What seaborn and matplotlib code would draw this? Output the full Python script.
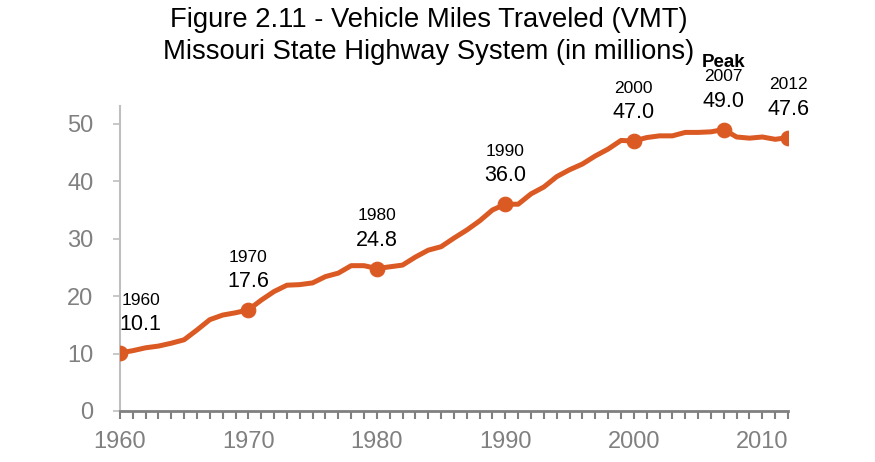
import matplotlib
matplotlib.use("Agg")
import matplotlib.pyplot as plt
import pandas as pd
import seaborn as sns

# VMT on the Missouri state highway system, millions
years = list(range(1960, 2013))
vmt = [10.1, 10.5, 11.0, 11.3, 11.8, 12.4, 14.1, 15.9, 16.7, 17.1,
       17.6, 19.3, 20.8, 21.9, 22.0, 22.3, 23.4, 24.0, 25.3, 25.3,
       24.8, 25.1, 25.4, 26.8, 28.0, 28.6, 30.1, 31.5, 33.1, 35.0,
       36.0, 36.0, 37.8, 39.0, 40.8, 42.0, 43.0, 44.4, 45.6, 47.1,
       47.0, 47.6, 47.9, 47.9, 48.5, 48.5, 48.6, 49.0, 47.7, 47.5,
       47.7, 47.3, 47.6]

label_years = [1960, 1970, 1980, 1990, 2000, 2007, 2012]
label_vals = ["10.1", "17.6", "24.8", "36.0", "47.0", "49.0", "47.6"]

df = pd.DataFrame({"year": years, "vmt": vmt})
marks = df[df["year"].isin(label_years)]

sns.set_style("white")
plt.rcParams["font.family"] = ["Liberation Sans", "DejaVu Sans"]
plt.rcParams["text.color"] = "black"

orange = "#DB5A24"
grey = "#808080"

fig = plt.figure(figsize=(8.75, 4.62), dpi=100)
ax = fig.add_axes([0.137, 0.1104, 0.7636, 0.6602])

sns.lineplot(data=df, x="year", y="vmt", ax=ax, color=orange, linewidth=3.6)
sns.scatterplot(data=marks, x="year", y="vmt", ax=ax, color=orange, s=110,
                edgecolor=orange, zorder=5)

# offsets are in points (1 pt = 1.39 px here)
for yr, txt in zip(label_years, label_vals):
    v = df.loc[df["year"] == yr, "vmt"].iloc[0]
    dx = 15 if yr == 1960 else 0
    ax.annotate(str(yr), (yr, v), xytext=(dx, 38), textcoords="offset points",
                ha="center", va="center", fontsize=12.5, color="black",
                annotation_clip=False)
    ax.annotate(txt, (yr, v), xytext=(dx, 20.5), textcoords="offset points",
                ha="center", va="center", fontsize=15.5, color="black",
                annotation_clip=False)

peak_v = df.loc[df["year"] == 2007, "vmt"].iloc[0]
ax.annotate("Peak", (2007, peak_v), xytext=(0, 48.5), textcoords="offset points",
            ha="center", va="center", fontsize=13.5, fontweight="bold",
            color="black", annotation_clip=False)

ax.set_xlim(1960, 2012)
ax.set_ylim(0, 53.1)
ax.set_xticks([1960, 1970, 1980, 1990, 2000, 2010])
ax.set_xticks(years, minor=True)
ax.set_yticks([0, 10, 20, 30, 40, 50])
ax.set_xlabel("")
ax.set_ylabel("")

for side in ["top", "right"]:
    ax.spines[side].set_visible(False)
ax.spines["left"].set_color("#BFBFBF")
ax.spines["left"].set_linewidth(1.5)
ax.spines["bottom"].set_color(grey)
ax.spines["bottom"].set_linewidth(2)

ax.tick_params(axis="y", which="major", left=True, length=5, width=1.2,
               color="#BFBFBF", labelsize=17, labelcolor=grey, pad=14)
ax.tick_params(axis="x", which="both", bottom=True, length=5.5, width=1.5,
               color=grey, labelsize=17, labelcolor=grey, pad=9)

fig.text(0.49, 0.957, "Figure 2.11 - Vehicle Miles Traveled (VMT)",
         ha="center", va="center", fontsize=19.7, color="black")
fig.text(0.49, 0.887, "Missouri State Highway System (in millions)",
         ha="center", va="center", fontsize=19.7, color="black")

fig.savefig("out.png", dpi=100)
